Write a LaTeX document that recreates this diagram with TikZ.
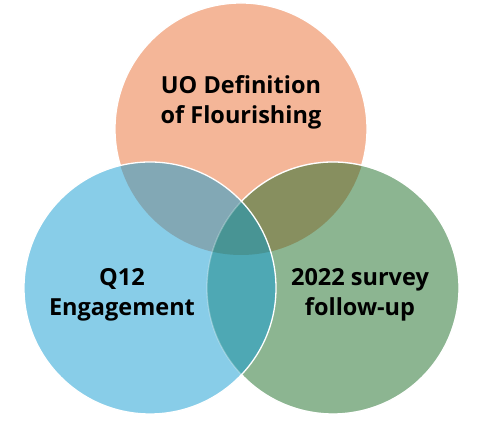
\documentclass[tikz,border=0pt]{standalone}
\usepackage{fontspec}
\setmainfont{Open Sans}
\usepackage{xcolor}
\usepackage{tikz}
\usetikzlibrary{positioning, calc}

\definecolor{flourish}{HTML}{F4B698}
\definecolor{engage}{HTML}{88CDE8}
\definecolor{survey}{HTML}{8CB591}
\definecolor{flourishengage}{HTML}{82A8B5}
\definecolor{flourishsurvey}{HTML}{878F5F}
\definecolor{engagesurvey}{HTML}{4EA8B4}
\definecolor{allthree}{HTML}{489494}

\begin{document}
\begin{tikzpicture}[
    x=1pt, y=1pt,
    label/.style={align=center, font=\bfseries\fontsize{23.5}{30}\selectfont, text=black},
    rim/.style={draw=white, line width=1.3pt}
]
\useasboundingbox (0,0) rectangle (480,427);
\def\rad{126}
\coordinate (ctop) at (241,298);
\coordinate (cleft) at (150,139);
\coordinate (cright) at (333,139);

% top circle
\fill [flourish] (ctop) circle (\rad);
\draw [rim] (ctop) circle (\rad);

% right circle
\fill [survey] (cright) circle (\rad);
\begin{scope}
  \clip (ctop) circle (\rad);
  \fill [flourishsurvey] (cright) circle (\rad);
\end{scope}
\draw [rim] (cright) circle (\rad);

% left circle
\fill [engage] (cleft) circle (\rad);
\begin{scope}
  \clip (cleft) circle (\rad);
  \fill [flourishengage] (ctop) circle (\rad);
  \fill [engagesurvey] (cright) circle (\rad);
  \clip (ctop) circle (\rad);
  \fill [allthree] (cright) circle (\rad);
\end{scope}
\draw [rim, draw opacity=0.3] (cright) circle (\rad);
\draw [rim] (cleft) circle (\rad);

\node (flourishing) [label] at (241,325) {UO Definition\\of Flourishing};
\node (engagement) [label] at (122,132) {Q12\\Engagement};
\node (followup) [label] at (360,132) {2022 survey\\follow-up};
\end{tikzpicture}
\end{document}
